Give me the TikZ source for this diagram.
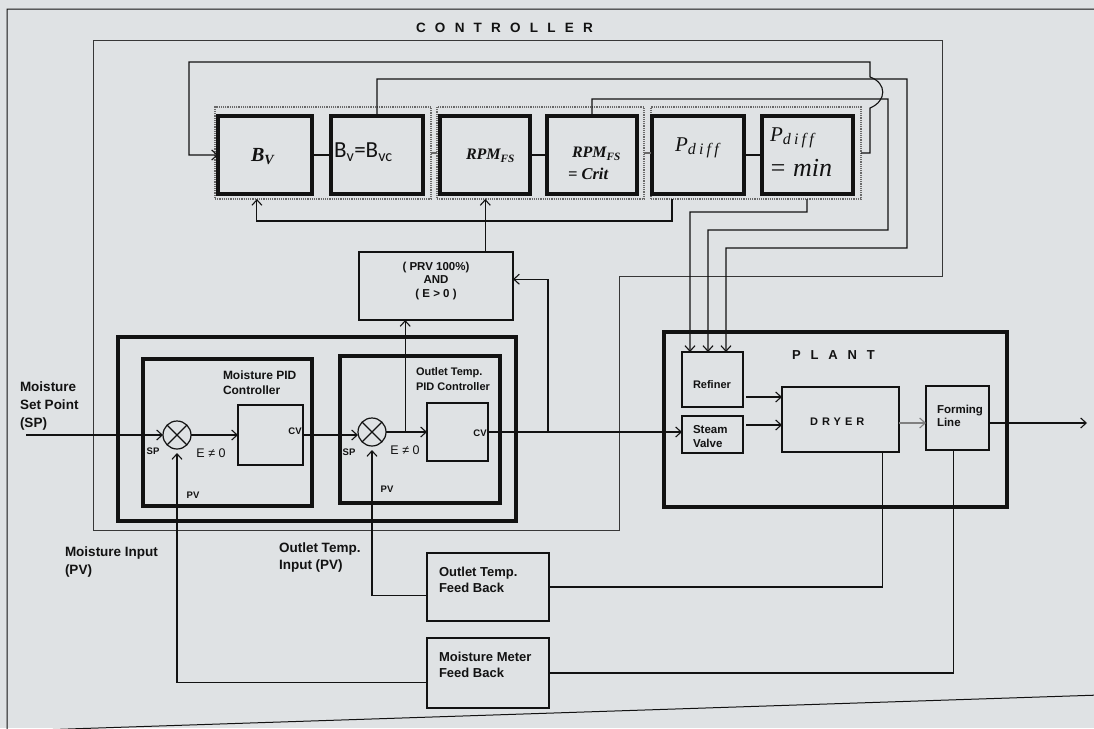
\documentclass[tikz,border=0pt]{standalone}
\usepackage{fontspec}
\setmainfont{Liberation Sans}
\newfontfamily\calibfont{Carlito}
\newfontfamily\mfont{Liberation Serif}
\usetikzlibrary{arrows.meta,calc}
\definecolor{paper}{RGB}{223,226,228}
\definecolor{ink}{RGB}{18,18,18}
\definecolor{dotc}{RGB}{105,105,105}
\definecolor{ctrlc}{RGB}{55,55,55}
\newcommand\lowsub[3]{\raisebox{-#3}{\fontsize{#1}{#1}\selectfont\addfontfeature{LetterSpace=20}#2}}
\tikzset{
  every node/.style={inner sep=0pt, outer sep=0pt, text=ink},
  ln/.style={draw=ink, line width=1.1pt},
  arr/.style={ln, -{Straight Barb[length=5.5pt,width=10pt,line width=1.1pt]}},
  heavy/.style={draw=ink, line width=3.2pt, rectangle},
  medium/.style={draw=ink, line width=2.6pt, rectangle},
  light/.style={draw=ink, line width=1.2pt, rectangle},
  grp/.style={draw=dotc, line width=1.2pt, densely dotted, rectangle},
  sumj/.style={draw=ink, line width=1.2pt, circle, minimum size=28pt},
  sidelab/.style={font=\bfseries\fontsize{13.5}{18}\selectfont, align=left, anchor=north west},
  fblab/.style={font=\bfseries\fontsize{13}{15.5}\selectfont, align=left, anchor=north west},
  tinylab/.style={font=\bfseries\fontsize{9.5}{9.5}\selectfont},
  errlab/.style={font=\fontsize{12.5}{12.5}\selectfont},
  basew/.style={anchor=base west}
}
\begin{document}
\begin{tikzpicture}[x=1pt,y=-1pt]
\fill[paper] (0,0) rectangle (1094,728);
\useasboundingbox (0,0) rectangle (1094,728);
\clip (0,0) rectangle (1094,728);

% outer frame
\draw[draw=ink, line width=1pt] (1100,695) -- (7,731) -- (7,9) -- (1100,9);

% controller outline
\draw[draw=ctrlc, line width=1pt] (93,40) -- (942,40) -- (942,276) -- (619,276) -- (619,530) -- (93,530) -- cycle;
\node[font=\bfseries\fontsize{13.5}{13.5}\selectfont\addfontfeature{LetterSpace=68.5}, basew] (tCtrl) at (416,32.8) {CONTROLLER};

% groups
\node[grp, minimum width=216pt, minimum height=92pt] (G1) at (323,153) {};
\node[grp, minimum width=207pt, minimum height=92pt] (G2) at (540.5,153) {};
\node[grp, minimum width=210pt, minimum height=92pt] (G3) at (756,153) {};

% row of decision boxes
\node[heavy, minimum width=94pt, minimum height=78pt] (BV) at (265,155) {};
\node[heavy, minimum width=92pt, minimum height=78pt] (BVC) at (377,155) {};
\node[heavy, minimum width=90pt, minimum height=78pt] (RPM) at (485,155) {};
\node[heavy, minimum width=90pt, minimum height=78pt] (CRIT) at (592,155) {};
\node[heavy, minimum width=92pt, minimum height=78pt] (PD) at (698,155) {};
\node[heavy, minimum width=91pt, minimum height=78pt] (PMIN) at (807.5,155) {};

\node[basew, font=\mfont\bfseries\itshape\fontsize{20}{20}\selectfont] (tBV) at (251,161) {B\textsubscript{V}};
\node[basew, font=\calibfont\fontsize{23}{23}\selectfont] (tBVC) at (334,157.3) {B\textsubscript{v}=B\textsubscript{vc}};
\node[basew, font=\mfont\bfseries\itshape\fontsize{16}{16}\selectfont] (tRPM) at (466,159.5) {RPM\textsubscript{FS}};
\node[basew, font=\mfont\bfseries\itshape\fontsize{16}{16}\selectfont] (tCRa) at (572,157.5) {RPM\textsubscript{FS}};
\node[basew, font=\mfont\bfseries\itshape\fontsize{16.5}{16.5}\selectfont] (tCRb) at (568,179) {= Crit};
\node[basew, font=\mfont\itshape\fontsize{21}{21}\selectfont] (tPD) at (675,151) {P\lowsub{16}{diff}{3.5pt}};
\node[basew, font=\mfont\itshape\fontsize{21}{21}\selectfont] (tPMa) at (770,141) {P\lowsub{16}{diff}{3.5pt}};
\node[basew, font=\mfont\itshape\fontsize{26}{26}\selectfont] (tPMb) at (769,176) {= min};

% short links in the row
\draw[ln] (BV.east) -- (BVC.west);
\draw[ln] (RPM.east) -- (CRIT.west);
\draw[ln] (PD.east) -- (PMIN.west);
\draw[draw=dotc, line width=1.8pt] (G1.east) -- (G2.west);
\draw[draw=dotc, line width=1.8pt] (G2.east) -- (G3.west);

% AND box
\node[medium, minimum width=154pt, minimum height=68pt] (AND) at (436,286) {};
\node[font=\bfseries\fontsize{11.5}{13.5}\selectfont, align=center, anchor=north] (tAND) at (436,261.7) {( PRV 100\%)\\AND\\( E > 0 )};

% PID controllers
\node[heavy, minimum width=398pt, minimum height=184pt] (PIDO) at (317,429) {};
\node[heavy, minimum width=169pt, minimum height=147pt] (MPID) at (227.5,432.5) {};
\node[heavy, minimum width=160pt, minimum height=147pt] (OPID) at (420,429.5) {};
\node[light, minimum width=65pt, minimum height=60pt] (IN1) at (270.5,435) {};
\node[light, minimum width=61pt, minimum height=58pt] (IN2) at (457.5,432) {};
\node[sumj] (J1) at (177,435) {};
\node[sumj] (J2) at (372,432) {};
\draw[draw=ink, line width=1.2pt] (J1.north west) -- (J1.south east) (J1.north east) -- (J1.south west);
\draw[draw=ink, line width=1.2pt] (J2.north west) -- (J2.south east) (J2.north east) -- (J2.south west);

\node[font=\bfseries\fontsize{12}{15}\selectfont, align=left, anchor=north west] (tMPID) at (223,370.7) {Moisture PID\\Controller};
\node[font=\bfseries\fontsize{11}{15}\selectfont, align=left, anchor=north west] (tOPID) at (416,368) {Outlet Temp.\\PID Controller};

\node[tinylab] (tSP1) at (153,451) {SP};
\node[tinylab] (tSP2) at (349,452) {SP};
\node[tinylab] (tPV1) at (193,495) {PV};
\node[tinylab] (tPV2) at (387,489) {PV};
\node[tinylab] (tCV1) at (295,431) {CV};
\node[tinylab] (tCV2) at (480,433) {CV};
\node[errlab] (tE1) at (211,453) {E ≠ 0};
\node[errlab] (tE2) at (405,450) {E ≠ 0};

% side labels
\node[sidelab] (tSPin) at (20,382) {Moisture\\Set Point\\(SP)};
\node[sidelab] (tMin) at (65,547) {Moisture Input\\(PV)};
\node[sidelab, font=\bfseries\fontsize{13.5}{17}\selectfont] (tOin) at (279,543) {Outlet Temp.\\Input (PV)};

% plant
\node[heavy, minimum width=343pt, minimum height=175pt] (PLANT) at (835.5,419.5) {};
\node[font=\bfseries\fontsize{13}{13}\selectfont\addfontfeature{LetterSpace=76}, basew] (tPLANT) at (792,359.7) {PLANT};
\node[light, minimum width=61pt, minimum height=55pt] (REF) at (712.5,379.5) {};
\node[light, minimum width=61pt, minimum height=37pt] (STM) at (712.5,434.5) {};
\node[light, minimum width=117pt, minimum height=65pt] (DRY) at (840.5,419.5) {};
\node[light, minimum width=63pt, minimum height=64pt] (FORM) at (957.5,418) {};
\node[font=\bfseries\fontsize{11}{11}\selectfont, anchor=west] (tREF) at (693,385) {Refiner};
\node[font=\bfseries\fontsize{11.5}{14}\selectfont, align=left, anchor=north west] (tSTM) at (693,425.8) {Steam\\Valve};
\node[font=\bfseries\fontsize{11}{11}\selectfont\addfontfeature{LetterSpace=37}, basew] (tDRY) at (810,425) {DRYER};
\node[font=\bfseries\fontsize{11.5}{13}\selectfont, align=left, anchor=north west] (tFORM) at (937,404.9) {Forming\\Line};

% feedback boxes
\node[medium, minimum width=122pt, minimum height=68pt] (OT) at (488,587) {};
\node[medium, minimum width=122pt, minimum height=70pt] (MM) at (488,673) {};
\node[fblab] (tOT) at (439,567.3) {Outlet Temp.\\Feed Back};
\node[fblab, font=\bfseries\fontsize{13}{16}\selectfont] (tMM) at (439,652.3) {Moisture Meter\\Feed Back};

% helper coordinates
\coordinate (spin) at (26,435);
\coordinate (cvb) at (548,432);
\coordinate (out) at (1087,423);
\coordinate (andin) at ($(AND.south west)!0.30!(AND.south east)$);
\coordinate (andr) at ($(AND.north east)!0.40!(AND.south east)$);
\coordinate (andtop) at ($(AND.north west)!0.82!(AND.north east)$);
\coordinate (pdb) at ($(G3.south west)!0.10!(G3.south east)$);
\coordinate (pmb) at ($(G3.south west)!0.743!(G3.south east)$);
\coordinate (gb1) at ($(G1.south west)!0.194!(G1.south east)$);
\coordinate (r1) at ($(REF.north west)!0.131!(REF.north east)$);
\coordinate (r2) at ($(REF.north west)!0.426!(REF.north east)$);
\coordinate (r3) at ($(REF.north west)!0.721!(REF.north east)$);
\coordinate (dryb) at ($(DRY.south west)!0.86!(DRY.south east)$);
\coordinate (formb) at ($(FORM.south west)!0.43!(FORM.south east)$);
\coordinate (otl) at ($(OT.north west)!0.62!(OT.south west)$);
\coordinate (mml) at ($(MM.north west)!0.64!(MM.south west)$);

% signal path
\draw[arr] (spin) -- (J1.west);
\draw[arr] (J1.east) -- (IN1.west);
\draw[arr] (IN1.east) -- (IN1.east -| J2.west);
\draw[arr] (J2.east) -- (IN2.west);
\draw[arr] (IN2.east) -- (IN2.east -| STM.west);
\draw[arr] (andin |- J2.east) -- (andin);
\draw[arr] (cvb) |- (andr);
\draw[arr] (andtop) -- (andtop |- G2.south);

% feedback loops in the controller
\draw[arr] (G3.east) -| (870,108) .. controls (887,101) and (887,83) .. (870,77) -- (870,62) -| (189,155) -- (BV.west);
\draw[arr] (pdb) -- ++(0,22) -| (gb1);
\draw[arr] (BVC.north) |- (907,79) |- (726,248) -- (r3);
\draw[arr] (CRIT.north) |- (888,99) |- (708,230) -- (r2);
\draw[arr] (pmb) |- (690,212) -- (r1);

% plant internals
\draw[arr] ([xshift=3pt,yshift=-17.5pt]REF.east) -- ([yshift=22.5pt]DRY.west);
\draw[arr] ([xshift=3pt,yshift=9.5pt]STM.east) -- ([yshift=-5.5pt]DRY.west);
\draw[arr, draw=gray] ([yshift=-3.5pt]DRY.east) -- ([yshift=-3.5pt]DRY.east -| FORM.west);
\draw[arr] ([yshift=-5pt]FORM.east) -- (out);

% measurement feedback
\draw[ln] (dryb) |- (OT.east);
\draw[ln] (formb) |- (MM.east);
\draw[arr, shorten >=4pt] (otl) -| (J2.south);
\draw[arr, shorten >=4pt] (mml) -| (J1.south);
\end{tikzpicture}
\end{document}
